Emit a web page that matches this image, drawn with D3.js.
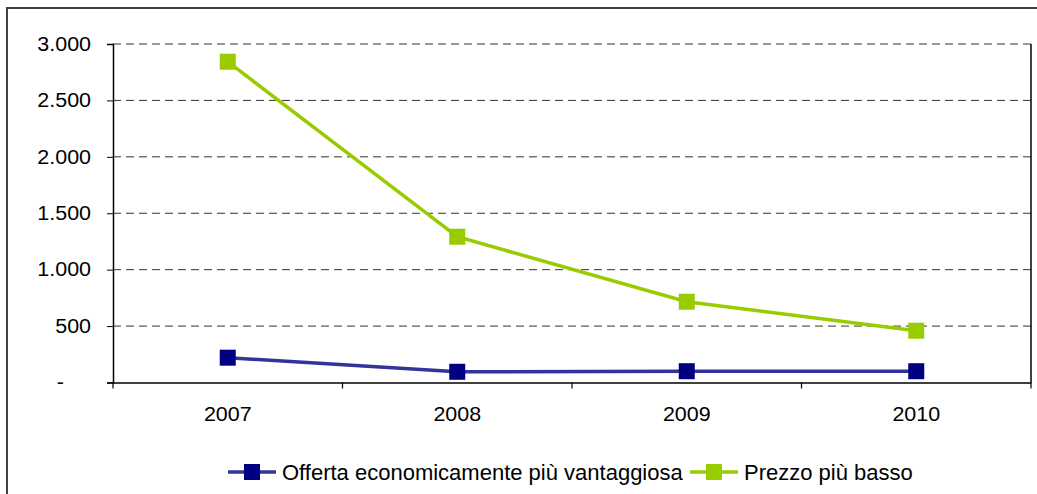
<!DOCTYPE html>
<html>
<head>
<meta charset="utf-8">
<script src="https://cdn.jsdelivr.net/npm/d3@7"></script>
<style>
  html, body { margin: 0; padding: 0; background: #fff; }
  svg { display: block; font-family: 'Liberation Sans', Arial, sans-serif; }
</style>
</head>
<body>
<div id="chart"></div>
<script>
// chart data
const years = ['2007', '2008', '2009', '2010'];
const offerta = [220, 95, 100, 100];
const prezzo = [2843, 1292, 716, 459];
const yTicks = [0, 500, 1000, 1500, 2000, 2500, 3000];
const seriesNames = ['Offerta economicamente più vantaggiosa', 'Prezzo più basso'];

const W = 1037, H = 494;
const plot = {l: 113, r: 1031, t: 44, b: 382.5};
const lineColors = ['#333399', '#99cc00'];
const markColors = ['#000080', '#99cc00'];
const stretch = 1.1;

const it = d3.formatLocale({decimal: ',', thousands: '.', grouping: [3], currency: ['€', '']});
const fmt = it.format(',');

const svg = d3.select('#chart')
    .append('svg')
    .attr('width', W)
    .attr('height', H);

// outer frame (runs off the right and bottom edges)
svg.append('rect')
    .attr('x', 7)
    .attr('y', 8)
    .attr('width', 1100)
    .attr('height', 600)
    .attr('fill', 'none')
    .attr('stroke', '#404040')
    .attr('stroke-width', 2);

const x = d3.scaleBand()
    .domain(years)
    .range([plot.l, plot.r]);

const y = d3.scaleLinear()
    .domain([0, 3000])
    .range([plot.b, plot.t]);

// dashed gridlines
svg.append('g')
    .selectAll('line')
    .data(yTicks.filter(d => d > 0))
    .join('line')
    .attr('x1', plot.l)
    .attr('x2', plot.r)
    .attr('y1', d => y(d))
    .attr('y2', d => y(d))
    .attr('stroke', '#333')
    .attr('stroke-width', 1)
    .attr('stroke-dasharray', '8,5');

// right border of plot area
svg.append('line')
    .attr('x1', plot.r)
    .attr('x2', plot.r)
    .attr('y1', plot.t)
    .attr('y2', plot.b)
    .attr('stroke', '#000')
    .attr('stroke-width', 1.5);

// y axis
const yAxis = svg.append('g')
    .attr('transform', `translate(${plot.l},0)`)
    .call(d3.axisLeft(y)
        .tickValues(yTicks)
        .tickSize(6)
        .tickPadding(22)
        .tickFormat(d => d === 0 ? '-' : fmt(d)));
yAxis.select('.domain').attr('stroke', '#000').attr('stroke-width', 1.5);
yAxis.selectAll('.tick line').attr('stroke', '#000');
yAxis.selectAll('.tick text')
    .attr('font-size', 19.5)
    .attr('fill', '#000')
    .attr('font-family', "'Liberation Sans', Arial, sans-serif")
    .attr('x', d => (d === 0 ? -49 : -22) / stretch)
    .attr('transform', `scale(${stretch},1)`);

// x axis, ticks sit on category boundaries
const xAxis = svg.append('g')
    .attr('transform', `translate(0,${plot.b})`)
    .call(d3.axisBottom(x).tickSize(0).tickPadding(25));
xAxis.select('.domain').attr('stroke', '#000').attr('stroke-width', 1.5);
xAxis.selectAll('.tick text')
    .attr('font-size', 19.5)
    .attr('fill', '#000')
    .attr('font-family', "'Liberation Sans', Arial, sans-serif")
    .attr('transform', `scale(${stretch},1)`)
    .attr('x', 0);
xAxis.selectAll('.tick').each(function(d) {
    const t = d3.select(this);
    const cx = x(d) + x.bandwidth() / 2;
    t.select('text').attr('transform', `translate(${-cx},0) scale(${stretch},1) translate(${cx / stretch},0)`);
});
xAxis.append('g')
    .selectAll('line')
    .data(years.concat(['end']))
    .join('line')
    .attr('x1', (d, i) => plot.l + i * x.step())
    .attr('x2', (d, i) => plot.l + i * x.step())
    .attr('y1', 0)
    .attr('y2', 6)
    .attr('stroke', '#000')
    .attr('stroke-width', 1.2);

// series
const series = [offerta, prezzo];
const line = d3.line()
    .x((d, i) => x(years[i]) + x.bandwidth() / 2)
    .y(d => y(d));

series.forEach((vals, s) => {
    const g = svg.append('g');
    g.append('path')
        .datum(vals)
        .attr('d', line)
        .attr('fill', 'none')
        .attr('stroke', lineColors[s])
        .attr('stroke-width', 3.5);
    g.selectAll('rect')
        .data(vals)
        .join('rect')
        .attr('x', (d, i) => x(years[i]) + x.bandwidth() / 2 - 8)
        .attr('y', d => y(d) - 8)
        .attr('width', 16)
        .attr('height', 16)
        .attr('fill', markColors[s]);
});

// legend
const legendItems = [{x: 228, name: seriesNames[0]}, {x: 690, name: seriesNames[1]}];
const legend = svg.append('g')
    .attr('transform', 'translate(0,472)');
legendItems.forEach((item, s) => {
    const g = legend.append('g').attr('transform', `translate(${item.x},0)`);
    g.append('line')
        .attr('x1', 0)
        .attr('x2', 48)
        .attr('stroke', lineColors[s])
        .attr('stroke-width', 3.5);
    g.append('rect')
        .attr('x', 16)
        .attr('y', -8)
        .attr('width', 16)
        .attr('height', 16)
        .attr('fill', markColors[s]);
    g.append('text')
        .attr('x', 54)
        .attr('y', 8)
        .attr('font-size', 22)
        .attr('fill', '#000')
        .text(item.name);
});
</script>
</body>
</html>
